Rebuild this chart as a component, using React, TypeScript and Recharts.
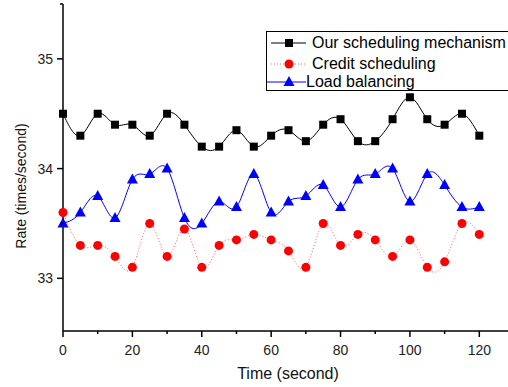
import React from "react";
import { LineChart, Line, XAxis, YAxis, Legend } from "recharts";

const times = [0, 5, 10, 15, 20, 25, 30, 35, 40, 45, 50, 55, 60, 65, 70, 75, 80, 85, 90, 95, 100, 105, 110, 115, 120];
const ourScheduling = [34.5, 34.3, 34.5, 34.4, 34.4, 34.3, 34.5, 34.4, 34.2, 34.2, 34.35, 34.2, 34.3, 34.35, 34.25, 34.4, 34.45, 34.25, 34.25, 34.45, 34.65, 34.45, 34.4, 34.5, 34.3];
const creditScheduling = [33.6, 33.3, 33.3, 33.2, 33.1, 33.5, 33.2, 33.45, 33.1, 33.3, 33.35, 33.4, 33.35, 33.25, 33.1, 33.5, 33.3, 33.4, 33.35, 33.2, 33.35, 33.1, 33.15, 33.5, 33.4];
const loadBalancing = [33.5, 33.6, 33.75, 33.55, 33.9, 33.95, 34.0, 33.55, 33.5, 33.7, 33.65, 33.95, 33.6, 33.7, 33.75, 33.85, 33.65, 33.9, 33.95, 34.0, 33.7, 33.95, 33.85, 33.65, 33.65];
const xTicks = [0, 10, 20, 30, 40, 50, 60, 70, 80, 90, 100, 110, 120, 130];
const yTicks = [33, 33.5, 34, 34.5, 35, 35.5];

const FONT = "'Liberation Sans', Arial, sans-serif";

const data = times.map((t, i) => ({
  time: t,
  our: ourScheduling[i],
  credit: creditScheduling[i],
  load: loadBalancing[i],
}));

function XTick(props: any) {
  const { x, y, payload } = props;
  const major = payload.value % 20 === 0;
  return (
    <g>
      <line x1={x} x2={x} y1={y} y2={y + (major ? 6 : 3)} stroke="#000" strokeWidth={1.5} />
      {major && (
        <text x={x} y={y + 24} textAnchor="middle" fontSize={14} fontFamily={FONT} fill="#222">
          {payload.value}
        </text>
      )}
    </g>
  );
}

function YTick(props: any) {
  const { x, y, payload } = props;
  const major = Number.isInteger(payload.value);
  return (
    <g>
      <line x1={x} x2={x - (major ? 6 : 3)} y1={y} y2={y} stroke="#000" strokeWidth={1.5} />
      {major && (
        <text x={x - 10} y={y + 5} textAnchor="end" fontSize={14} fontFamily={FONT} fill="#222">
          {payload.value}
        </text>
      )}
    </g>
  );
}

function Square(props: any) {
  const { cx, cy, index } = props;
  return <rect key={"s" + index} x={cx - 4} y={cy - 4} width={8} height={8} fill="#000" />;
}

function Circle(props: any) {
  const { cx, cy, index } = props;
  return <circle key={"c" + index} cx={cx} cy={cy} r={4.5} fill="#ff0000" />;
}

function Triangle(props: any) {
  const { cx, cy, index } = props;
  return (
    <polygon
      key={"t" + index}
      points={`${cx},${cy - 6} ${cx - 5.5},${cy + 4} ${cx + 5.5},${cy + 4}`}
      fill="#0000ff"
    />
  );
}

const legendRows = [
  { label: "Our scheduling mechanism", color: "#000", kind: "square", textX: 45 },
  { label: "Credit scheduling", color: "#ff0000", kind: "circle", textX: 45 },
  { label: "Load balancing", color: "#0000ff", kind: "triangle", textX: 39 },
];

function LegendBox() {
  return (
    <div
      style={{
        border: "1px solid #000",
        width: 260,
        height: 58,
        background: "#fff",
        position: "relative",
        fontFamily: FONT,
        fontSize: 16,
        color: "#000",
      }}
    >
      {legendRows.map((r, i) => {
        const cy = [11, 32, 50][i];
        return (
          <div key={r.label} style={{ position: "absolute", left: 0, top: cy - 10, height: 20, width: 260 }}>
            <svg width={40} height={20} style={{ position: "absolute", left: 0, top: 0 }}>
              <line
                x1={r.kind === "triangle" ? 0 : 4}
                x2={39}
                y1={10}
                y2={10}
                stroke={r.kind === "circle" ? "#ff6060" : r.color}
                strokeWidth={r.kind === "circle" ? 1 : 1.2}
                strokeDasharray={r.kind === "circle" ? "1 2" : undefined}
              />
              {r.kind === "square" && <rect x={18} y={6} width={8} height={8} fill="#000" />}
              {r.kind === "circle" && <circle cx={22} cy={10} r={4.5} fill="#ff0000" />}
              {r.kind === "triangle" && <polygon points="22,4 16.5,14 27.5,14" fill="#0000ff" />}
            </svg>
            <span style={{ position: "absolute", left: r.textX, top: 0, lineHeight: "20px", whiteSpace: "nowrap" }}>
              {r.label}
            </span>
          </div>
        );
      })}
    </div>
  );
}

export default function App() {
  return (
    <div style={{ position: "absolute", left: 0, top: 0, width: 508, height: 387, overflow: "hidden", background: "#fff" }}>
      <LineChart width={514} height={387} data={data} margin={{ top: 4, right: 0, bottom: 0, left: 0 }}>
        <XAxis
          type="number"
          dataKey="time"
          domain={[0, 130]}
          ticks={xTicks}
          interval={0}
          tick={<XTick />}
          tickLine={false}
          tickSize={0}
          tickMargin={0}
          axisLine={{ stroke: "#000", strokeWidth: 1.5 }}
          height={56}
        />
        <YAxis
          type="number"
          domain={[32.52, 35.5]}
          ticks={yTicks}
          interval={0}
          tick={<YTick />}
          tickLine={false}
          tickSize={0}
          tickMargin={0}
          axisLine={{ stroke: "#000", strokeWidth: 1.5 }}
          width={63}
          allowDataOverflow
        />
        <Legend
          layout="horizontal"
          verticalAlign="middle"
          align="center"
          content={() => <LegendBox />}
          wrapperStyle={{ position: "absolute", left: 266, top: 31, width: 262, height: 60 }}
        />
        <Line
          type="natural"
          dataKey="our"
          stroke="#000"
          strokeWidth={1}
          dot={<Square />}
          activeDot={false}
          isAnimationActive={false}
        />
        <Line
          type="natural"
          dataKey="credit"
          stroke="#ff6060"
          strokeWidth={1}
          strokeDasharray="1 2"
          dot={<Circle />}
          activeDot={false}
          isAnimationActive={false}
        />
        <Line
          type="natural"
          dataKey="load"
          stroke="#0000ff"
          strokeWidth={1}
          dot={<Triangle />}
          activeDot={false}
          isAnimationActive={false}
        />
      </LineChart>
      <div
        style={{
          position: "absolute",
          left: 21,
          top: 186,
          transform: "translate(-50%, -50%) rotate(-90deg)",
          fontFamily: FONT,
          fontSize: 14,
          whiteSpace: "nowrap",
          color: "#111",
        }}
      >
        Rate (times/second)
      </div>
      <div
        style={{
          position: "absolute",
          left: 288,
          top: 374,
          transform: "translate(-50%, -50%)",
          fontFamily: FONT,
          fontSize: 16,
          whiteSpace: "nowrap",
          color: "#111",
        }}
      >
        Time (second)
      </div>
    </div>
  );
}
